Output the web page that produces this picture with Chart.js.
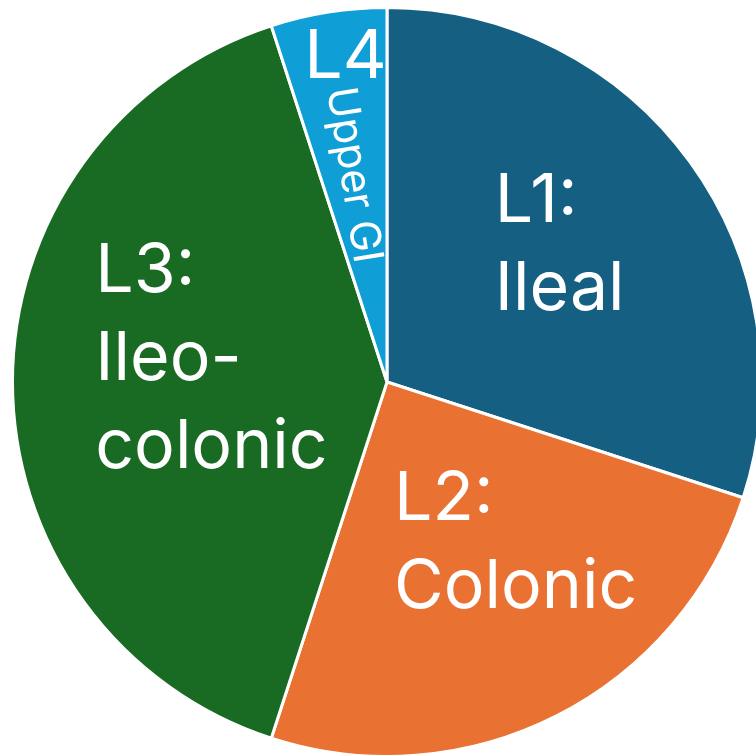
<!DOCTYPE html>
<html>
<head>
<meta charset="utf-8">
<script src="https://cdn.jsdelivr.net/npm/chart.js@4"></script>
<style>
  html, body { margin: 0; padding: 0; background: #fff; overflow: hidden; }
  canvas { display: block; }
</style>
</head>
<body>
<canvas id="locChart" width="774" height="764"></canvas>
<script>
// Disease location share (%)
const categories = ["L1", "L2", "L3", "L4"];
const shares = [30, 25, 40, 5];
const sliceLabels = [
  ["L1:", "Ileal"],
  ["L2:", "Colonic"],
  ["L3:", "Ileo-", "colonic"],
  ["L4"],
];
const sliceColors = ["#156082", "#E97132", "#196B24", "#0F9ED5"];

// label anchor (left, first baseline) as fraction of the pie radius
const labelSpots = [
  [0.288, -0.427],
  [0.019, 0.368],
  [-0.779, -0.240],
  [-0.221, -0.813],
];

// Draw the white labels inside the slices
const sliceLabelPlugin = {
  id: "sliceLabelPlugin",
  afterDatasetsDraw(chart) {
    const ctx = chart.ctx;
    const arcs = chart.getDatasetMeta(0).data;
    ctx.save();
    ctx.fillStyle = "#fff";
    ctx.textAlign = "left";
    ctx.textBaseline = "alphabetic";
    ctx.font = "68px Inter";
    arcs.forEach((arc, i) => {
      const r = arc.outerRadius;
      const x = arc.x + labelSpots[i][0] * r;
      let y = arc.y + labelSpots[i][1] * r;
      sliceLabels[i].forEach((line) => {
        ctx.fillText(line, x, y);
        y += 88;
      });
    });

    // rotated "Upper GI" along the L4 slice, reading toward the centre
    const l4 = arcs[3];
    const mid = (l4.startAngle + l4.endAngle) / 2;
    const r = l4.outerRadius;
    ctx.translate(l4.x - 0.160 * r, l4.y - 0.781 * r);
    ctx.rotate(mid + Math.PI);
    ctx.font = "42px Inter";
    ctx.fillText("Upper GI", 0, 0);
    ctx.restore();
  },
};

const ctx = document.getElementById("locChart").getContext("2d");

new Chart(ctx, {
  type: "pie",
  data: {
    labels: categories,
    datasets: [
      {
        data: shares,
        backgroundColor: sliceColors,
        borderColor: "#fff",
        borderWidth: 3,
      },
    ],
  },
  options: {
    responsive: false,
    animation: false,
    layout: { padding: 6 },
    plugins: {
      legend: { display: false },
      tooltip: { enabled: false },
    },
  },
  plugins: [sliceLabelPlugin],
});
</script>
</body>
</html>
